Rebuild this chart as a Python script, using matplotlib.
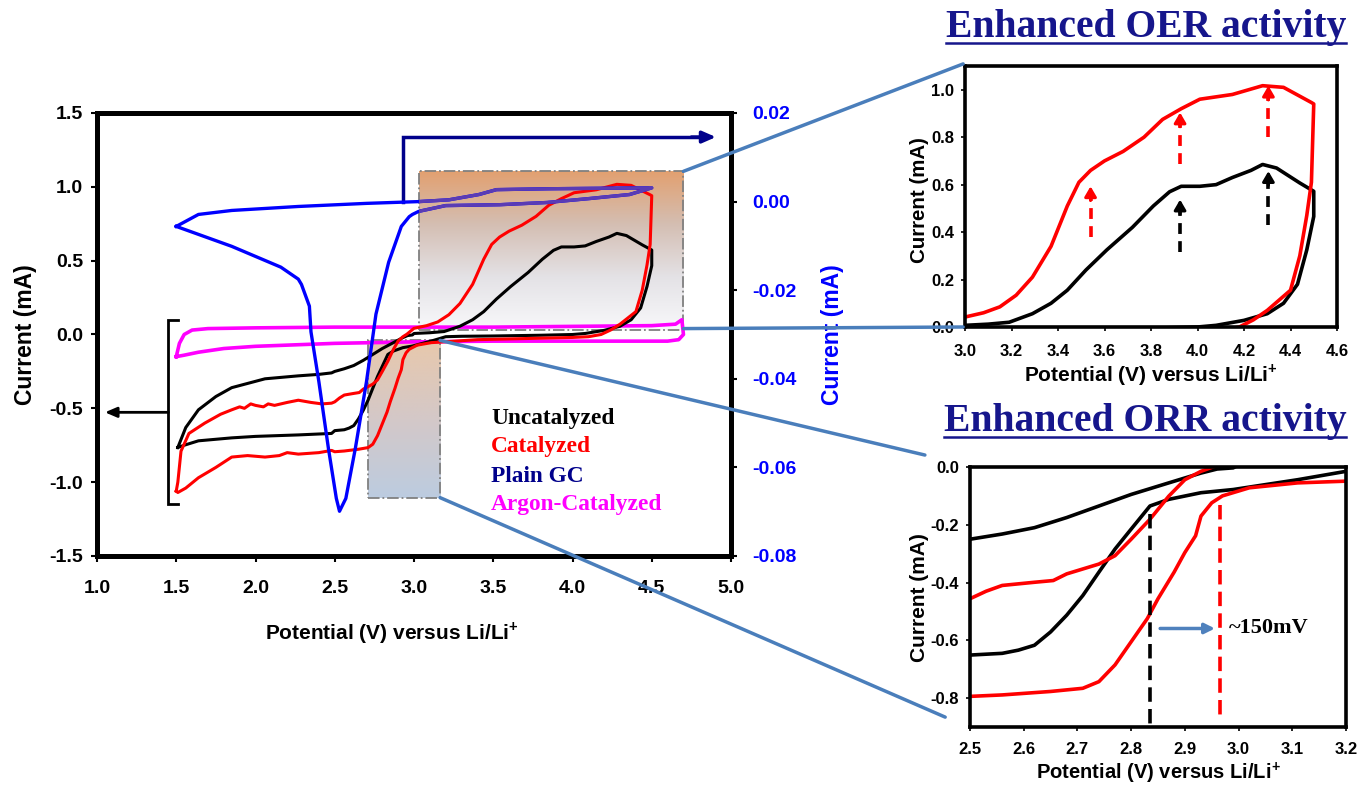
import numpy as np
import matplotlib
matplotlib.use("Agg")
import matplotlib.pyplot as plt
from matplotlib.patches import ConnectionPatch, Rectangle
from matplotlib.lines import Line2D
from matplotlib.ticker import FixedLocator, FuncFormatter

plt.rcParams['font.family'] = ['Liberation Sans', 'DejaVu Sans']
plt.rcParams['font.weight'] = 'bold'
plt.rcParams['axes.unicode_minus'] = False
plt.rcParams['mathtext.fontset'] = 'custom'
plt.rcParams['mathtext.rm'] = 'Liberation Sans:bold'
plt.rcParams['mathtext.bf'] = 'Liberation Sans:bold'

# ---------------- data (potential V vs Li/Li+, current mA) ----------------
cat_v = [1.50, 1.51, 1.53, 1.58, 1.68, 1.78, 1.85, 1.90, 1.93, 1.97, 2.00, 2.05, 2.08, 2.12,
         2.20, 2.27, 2.35, 2.42, 2.48, 2.50, 2.53, 2.56, 2.62, 2.655, 2.68, 2.71, 2.74, 2.77,
         2.80, 2.835, 2.87, 2.90, 2.93, 2.955, 3.00, 3.08, 3.15, 3.22, 3.29, 3.37, 3.44, 3.49,
         3.54, 3.60, 3.68, 3.77, 3.85, 3.93, 4.01, 4.15, 4.28, 4.37, 4.49, 4.50,
         4.49, 4.47, 4.44, 4.40, 4.30, 4.24, 4.18, 4.10, 4.00, 3.80, 3.60, 3.40, 3.20, 3.11,
         3.02, 2.97, 2.95, 2.93, 2.92, 2.90, 2.88, 2.85, 2.83, 2.80, 2.77, 2.74, 2.71, 2.65,
         2.56, 2.50, 2.48, 2.40, 2.27, 2.20, 2.15, 2.06, 1.95, 1.85, 1.75, 1.64, 1.56, 1.51, 1.50]
cat_i = [-1.06, -1.00, -0.79, -0.67, -0.60, -0.54, -0.51, -0.49, -0.50, -0.47, -0.48, -0.49, -0.47, -0.48,
         -0.46, -0.445, -0.46, -0.47, -0.465, -0.456, -0.43, -0.41, -0.399, -0.393, -0.37, -0.353, -0.336, -0.307,
         -0.25, -0.181, -0.101, -0.044, -0.015, 0.002, 0.042, 0.06, 0.085, 0.134, 0.21, 0.34, 0.51, 0.61,
         0.66, 0.70, 0.74, 0.80, 0.875, 0.92, 0.96, 0.98, 1.017, 1.01, 0.946, 0.94,
         0.61, 0.47, 0.30, 0.155, 0.07, 0.03, 0.0, -0.015, -0.02, -0.025, -0.03, -0.035, -0.049, -0.055,
         -0.072, -0.10, -0.124, -0.17, -0.238, -0.296, -0.364, -0.456, -0.525, -0.605, -0.685, -0.743, -0.766, -0.777,
         -0.789, -0.794, -0.785, -0.80, -0.81, -0.80, -0.82, -0.83, -0.82, -0.83, -0.90, -0.97, -1.04, -1.07, -1.06]

uncat_v = [1.51, 1.56, 1.64, 1.75, 1.85, 2.06, 2.27, 2.40, 2.48, 2.50, 2.56, 2.62, 2.68, 2.74, 2.80,
           2.87, 2.93, 2.96, 2.99, 3.00, 3.10, 3.19, 3.29, 3.37, 3.44, 3.52, 3.61, 3.72, 3.81, 3.88,
           3.93, 4.01, 4.08, 4.15, 4.23, 4.28, 4.34, 4.44, 4.50,
           4.50, 4.47, 4.43, 4.37, 4.30, 4.20, 4.08, 4.00, 3.80, 3.50, 3.30, 3.20, 3.11, 2.99, 2.93,
           2.87, 2.835, 2.80, 2.77, 2.74, 2.71, 2.68, 2.65, 2.62, 2.59, 2.56, 2.50, 2.48, 2.27, 2.00,
           1.85, 1.64, 1.55, 1.51]
uncat_i = [-0.765, -0.63, -0.51, -0.42, -0.36, -0.30, -0.28, -0.27, -0.26, -0.25, -0.232, -0.21, -0.175, -0.135, -0.095,
           -0.055, -0.021, -0.007, -0.003, 0.007, 0.012, 0.02, 0.056, 0.10, 0.155, 0.24, 0.325, 0.42, 0.51, 0.57,
           0.593, 0.593, 0.60, 0.63, 0.66, 0.685, 0.67, 0.607, 0.572,
           0.466, 0.325, 0.18, 0.10, 0.056, 0.028, 0.007, 0.0, -0.005, -0.01, -0.012, -0.015, -0.044, -0.078, -0.089,
           -0.112, -0.135, -0.215, -0.284, -0.364, -0.445, -0.513, -0.571, -0.617, -0.634, -0.645, -0.651, -0.67, -0.68, -0.69,
           -0.70, -0.72, -0.75, -0.765]

argon_v = [1.50, 1.52, 1.55, 1.60, 1.70, 2.00, 2.50, 3.00, 3.50, 4.00, 4.50, 4.65, 4.69,
           4.70, 4.67, 4.60, 4.00, 3.50, 3.00, 2.50, 2.00, 1.80, 1.64, 1.55, 1.50]
argon_i = [-0.15, -0.06, 0.00, 0.03, 0.04, 0.045, 0.05, 0.05, 0.05, 0.055, 0.06, 0.07, 0.10,
           0.00, -0.035, -0.045, -0.045, -0.045, -0.05, -0.06, -0.08, -0.095, -0.12, -0.14, -0.15]

# Plain GC (right axis, mA)
gc_v = [1.50, 1.64, 1.85, 2.27, 2.70, 3.03, 3.22, 3.41, 3.52, 3.85, 4.47, 4.50,
        4.36, 4.11, 3.84, 3.54, 3.20, 3.03, 2.99, 2.97, 2.92, 2.84, 2.76, 2.70, 2.63, 2.57,
        2.53, 2.51, 2.46, 2.40, 2.35, 2.34, 2.29, 2.27, 2.16, 1.85, 1.64, 1.50]
gc_i = [-0.0056, -0.0029, -0.0020, -0.0011, -0.0004, 0.0000, 0.0004, 0.0016, 0.0027, 0.0029, 0.0031, 0.0031,
        0.0016, 0.0007, -0.0002, -0.0007, -0.0009, -0.0022, -0.0029, -0.0034, -0.0056, -0.0137, -0.0254, -0.0407,
        -0.0557, -0.0670, -0.0699, -0.0670, -0.0557, -0.0407, -0.0294, -0.0236, -0.0187, -0.0175, -0.0148,
        -0.0101, -0.0074, -0.0056]

legend_labels = ['Uncatalyzed', 'Catalyzed', 'Plain GC', 'Argon-Catalyzed']
legend_colors = ['#000000', '#FF0000', '#00008B', '#FF00FF']

main_xticks = [1.0, 1.5, 2.0, 2.5, 3.0, 3.5, 4.0, 4.5, 5.0]
main_yticks = [-1.5, -1.0, -0.5, 0.0, 0.5, 1.0, 1.5]
right_yticks = [-0.08, -0.06, -0.04, -0.02, 0.00, 0.02]
oer_xticks = [3.0, 3.2, 3.4, 3.6, 3.8, 4.0, 4.2, 4.4, 4.6]
oer_yticks = [0.0, 0.2, 0.4, 0.6, 0.8, 1.0]
orr_xticks = [2.5, 2.6, 2.7, 2.8, 2.9, 3.0, 3.1, 3.2]
orr_yticks = [-0.8, -0.6, -0.4, -0.2, 0.0]

# annotation positions
oer_red_arrow_x = [3.54, 3.925, 4.305]
oer_red_arrow_y0 = [0.38, 0.685, 0.80]
oer_red_arrow_y1 = [0.593, 0.904, 1.017]
oer_blk_arrow_x = [3.925, 4.305]
oer_blk_arrow_y0 = [0.318, 0.43]
oer_blk_arrow_y1 = [0.537, 0.657]
orr_onset_black = 2.835
orr_onset_red = 2.966

RED = '#FF0000'
BLUE = '#0000FF'
NAVY = '#00008B'
MAG = '#FF00FF'
STEEL = '#4A7EBB'
TITLE = '#16168C'
SERIF = ['Liberation Serif', 'DejaVu Serif']

fig = plt.figure(figsize=(13.58, 7.87), dpi=100)
W, H = 1358, 787


def set_ticks(a, axis, ticks, fmt):
    target = a.xaxis if axis == 'x' else a.yaxis
    target.set_major_locator(FixedLocator(ticks))
    target.set_major_formatter(FuncFormatter(lambda v, p: (fmt % v).replace('\u2212', '-')
                                             if abs(v) > 1e-9 else fmt % 0.0))


# ---------------- main axes ----------------
ax = fig.add_axes([97 / W, 1 - 556 / H, 634 / W, 443 / H])
ax2 = ax.twinx()


def gradient_box(a, x0, x1, y0, y1, stops):
    n = 256
    t = np.linspace(0, 1, n)
    pos = np.linspace(0, 1, len(stops))
    cols = np.array(stops, dtype=float) / 255.0
    img = np.stack([np.interp(t, pos, cols[:, k]) for k in range(3)], axis=-1)[:, None, :]
    a.imshow(img, extent=(x0, x1, y0, y1), aspect='auto', zorder=1, interpolation='bilinear')
    a.add_patch(Rectangle((x0, y0), x1 - x0, y1 - y0, fill=False, ec='#808080',
                          ls='-.', lw=1.3, zorder=2))


OER_BOX = (3.03, 4.70, 0.03, 1.105)
ORR_BOX = (2.71, 3.165, -1.105, -0.04)
gradient_box(ax, OER_BOX[0], OER_BOX[1], OER_BOX[2], OER_BOX[3],
             [(226, 160, 112), (212, 190, 178), (228, 226, 230), (248, 248, 250)])
gradient_box(ax, ORR_BOX[0], ORR_BOX[1], ORR_BOX[2], ORR_BOX[3],
             [(232, 200, 172), (212, 200, 200), (188, 204, 224)])

ax.plot(argon_v, argon_i, color=MAG, lw=2.6, zorder=3)
ax.plot(uncat_v, uncat_i, color='black', lw=2.2, zorder=4)
ax.plot(cat_v, cat_i, color=RED, lw=2.2, zorder=4)
ax2.plot(gc_v, gc_i, color=BLUE, lw=2.4, zorder=3)
# blue curve seen through the tinted box looks purple
gc_tint, = ax2.plot(gc_v, gc_i, color='#5A3CB4', lw=2.4, zorder=4)
clip_rect = Rectangle((OER_BOX[0], OER_BOX[2]), OER_BOX[1] - OER_BOX[0], OER_BOX[3] - OER_BOX[2],
                      transform=ax.transData, visible=False)
gc_tint.set_clip_path(clip_rect)

ax.set_xlim(1.0, 5.0)
ax.set_ylim(-1.5, 1.5)
ax2.set_ylim(-0.08, 0.02)
set_ticks(ax, 'x', main_xticks, '%.1f')
set_ticks(ax, 'y', main_yticks, '%.1f')
set_ticks(ax2, 'y', right_yticks, '%.2f')
ax.tick_params(axis='x', labelsize=14, width=1.5, length=4, direction='out', pad=13)
ax.tick_params(axis='y', labelsize=14, width=1.5, length=4, direction='out', pad=6)
ax2.tick_params(labelsize=14, width=1.5, length=4, direction='out', colors='black',
                labelcolor=BLUE, pad=11)
for s in ax.spines.values():
    s.set_linewidth(3.5)
for s in ax2.spines.values():
    s.set_linewidth(3.5)

ax.set_xlabel(r'Potential (V) versus Li/Li$^{\mathbf{+}}$', fontsize=15, fontweight='bold')
ax.xaxis.set_label_coords(0.465, -0.145)
ax.set_ylabel('Current (mA)', fontsize=16.5, fontweight='bold')
ax.yaxis.set_label_coords(-0.095, 0.5)
ax2.set_ylabel('Current (mA)', fontsize=16.5, fontweight='bold', color=BLUE)
ax2.yaxis.set_label_coords(1.142, 0.5)

# legend-like labels
leg_y = [-0.609, -0.799, -0.996, -1.187]
for lab, col, yy in zip(legend_labels, legend_colors, leg_y):
    ax.text(3.487, yy, lab, color=col, fontsize=16.8, fontweight='bold',
            family=SERIF, va='baseline', ha='left', zorder=6)

# bracket + arrow to left axis
ax.plot([1.51, 1.45, 1.45, 1.51], [0.099, 0.099, -1.146, -1.146], color='black', lw=2, zorder=5,
        solid_joinstyle='miter')
ax.annotate('', xy=(1.05, -0.527), xytext=(1.45, -0.527),
            arrowprops=dict(arrowstyle='-|>,head_width=0.3,head_length=0.7', color='black', lw=2,
                            shrinkA=0, shrinkB=0), zorder=5)
# plain GC arrow to right axis
ax.plot([2.93, 2.93, 4.80], [0.90, 1.337, 1.337], color=NAVY, lw=2.5, zorder=5,
        solid_joinstyle='miter')
ax.annotate('', xy=(4.905, 1.337), xytext=(4.75, 1.337),
            arrowprops=dict(arrowstyle='-|>,head_width=0.35,head_length=0.8', color=NAVY, lw=2.5,
                            shrinkA=0, shrinkB=0), zorder=5)

# ---------------- OER inset ----------------
ax_oer = fig.add_axes([965 / W, 1 - 327 / H, 372 / W, 261 / H])
ax_oer.plot(uncat_v, uncat_i, color='black', lw=2.6)
ax_oer.plot(cat_v, cat_i, color=RED, lw=2.6)
ax_oer.set_xlim(3.0, 4.6)
ax_oer.set_ylim(0.0, 1.1)
set_ticks(ax_oer, 'x', oer_xticks, '%.1f')
set_ticks(ax_oer, 'y', oer_yticks, '%.1f')
ax_oer.tick_params(labelsize=12, width=1.2, length=3, direction='out', pad=5)
ax_oer.tick_params(axis='x', pad=9)
for s in ax_oer.spines.values():
    s.set_linewidth(2.6)
ax_oer.set_xlabel(r'Potential (V) versus Li/Li$^{\mathbf{+}}$', fontsize=15, fontweight='bold')
ax_oer.xaxis.set_label_coords(0.5, -0.135)
ax_oer.set_ylabel('Current (mA)', fontsize=14.8, fontweight='bold')
ax_oer.yaxis.set_label_coords(-0.096, 0.487)


def dashed_arrow(a, x, y0, y1, col):
    a.plot([x, x], [y0, y1 - 0.04], color=col, lw=2.6, ls=(0, (3, 2)))
    a.annotate('', xy=(x, y1), xytext=(x, y1 - 0.06),
               arrowprops=dict(arrowstyle='-|>,head_width=0.35,head_length=0.6', color=col, lw=2.2,
                               shrinkA=0, shrinkB=0))


for x, y0, y1 in zip(oer_red_arrow_x, oer_red_arrow_y0, oer_red_arrow_y1):
    dashed_arrow(ax_oer, x, y0, y1, RED)
for x, y0, y1 in zip(oer_blk_arrow_x, oer_blk_arrow_y0, oer_blk_arrow_y1):
    dashed_arrow(ax_oer, x, y0, y1, 'black')

# ---------------- ORR inset ----------------
ax_orr = fig.add_axes([970 / W, 1 - 727 / H, 376 / W, 260 / H])
ax_orr.plot(uncat_v, uncat_i, color='black', lw=2.6)
ax_orr.plot(cat_v, cat_i, color=RED, lw=2.6)
ax_orr.set_xlim(2.5, 3.2)
ax_orr.set_ylim(-0.9, 0.0)
set_ticks(ax_orr, 'x', orr_xticks, '%.1f')
set_ticks(ax_orr, 'y', orr_yticks, '%.1f')
ax_orr.tick_params(labelsize=12, width=1.2, length=3, direction='out', pad=5)
ax_orr.tick_params(axis='x', pad=8)
for s in ax_orr.spines.values():
    s.set_linewidth(2.6)
ax_orr.set_xlabel(r'Potential (V) versus Li/Li$^{\mathbf{+}}$', fontsize=14.5, fontweight='bold')
ax_orr.xaxis.set_label_coords(0.5, -0.128)
ax_orr.set_ylabel('Current (mA)', fontsize=15, fontweight='bold')
ax_orr.yaxis.set_label_coords(-0.109, 0.496)

ax_orr.plot([orr_onset_black, orr_onset_black], [-0.164, -0.9], color='black', lw=2.6, ls=(0, (4, 2)))
ax_orr.plot([orr_onset_red, orr_onset_red], [-0.13, -0.875], color=RED, lw=2.6, ls=(0, (4, 2)))
ax_orr.annotate('', xy=(2.956, -0.559), xytext=(2.854, -0.559),
                arrowprops=dict(arrowstyle='-|>,head_width=0.3,head_length=0.6', color='#4F81BD',
                                lw=2.5, shrinkA=0, shrinkB=0))
ax_orr.text(2.981, -0.559, '~150mV', fontsize=16, fontweight='bold', va='center', ha='left',
            family=SERIF)

# ---------------- connectors ----------------
cons = [
    ((OER_BOX[1], OER_BOX[3]), ax.transData, (-0.005, 1.008), ax_oer.transAxes),
    ((OER_BOX[1], 0.04), ax.transData, (-0.005, 0.0), ax_oer.transAxes),
    ((ORR_BOX[1], ORR_BOX[3]), ax.transData, (-0.12, 1.046), ax_orr.transAxes),
    ((ORR_BOX[1], ORR_BOX[2]), ax.transData, (-0.066, 0.038), ax_orr.transAxes),
]
for xyA, cA, xyB, cB in cons:
    c = ConnectionPatch(xyA=xyA, coordsA=cA, xyB=xyB, coordsB=cB, color=STEEL, lw=2.5, zorder=10)
    fig.add_artist(c)

# ---------------- titles ----------------
t1 = fig.text(1146 / W, 1 - 37 / H, 'Enhanced OER activity', fontsize=28.5, fontweight='bold',
              color=TITLE, ha='center', va='baseline', family=SERIF)
t2 = fig.text(1145 / W, 1 - 431 / H, 'Enhanced ORR activity', fontsize=28.5, fontweight='bold',
              color=TITLE, ha='center', va='baseline', family=SERIF)
fig.canvas.draw()
r = fig.canvas.get_renderer()
for t in (t1, t2):
    bb = t.get_window_extent(r)
    yb = t.get_position()[1] * H - 5.5
    fig.add_artist(Line2D([bb.x0 / W, bb.x1 / W], [yb / H, yb / H], color=TITLE, lw=1.8))

fig.savefig('out.png', dpi=100)
